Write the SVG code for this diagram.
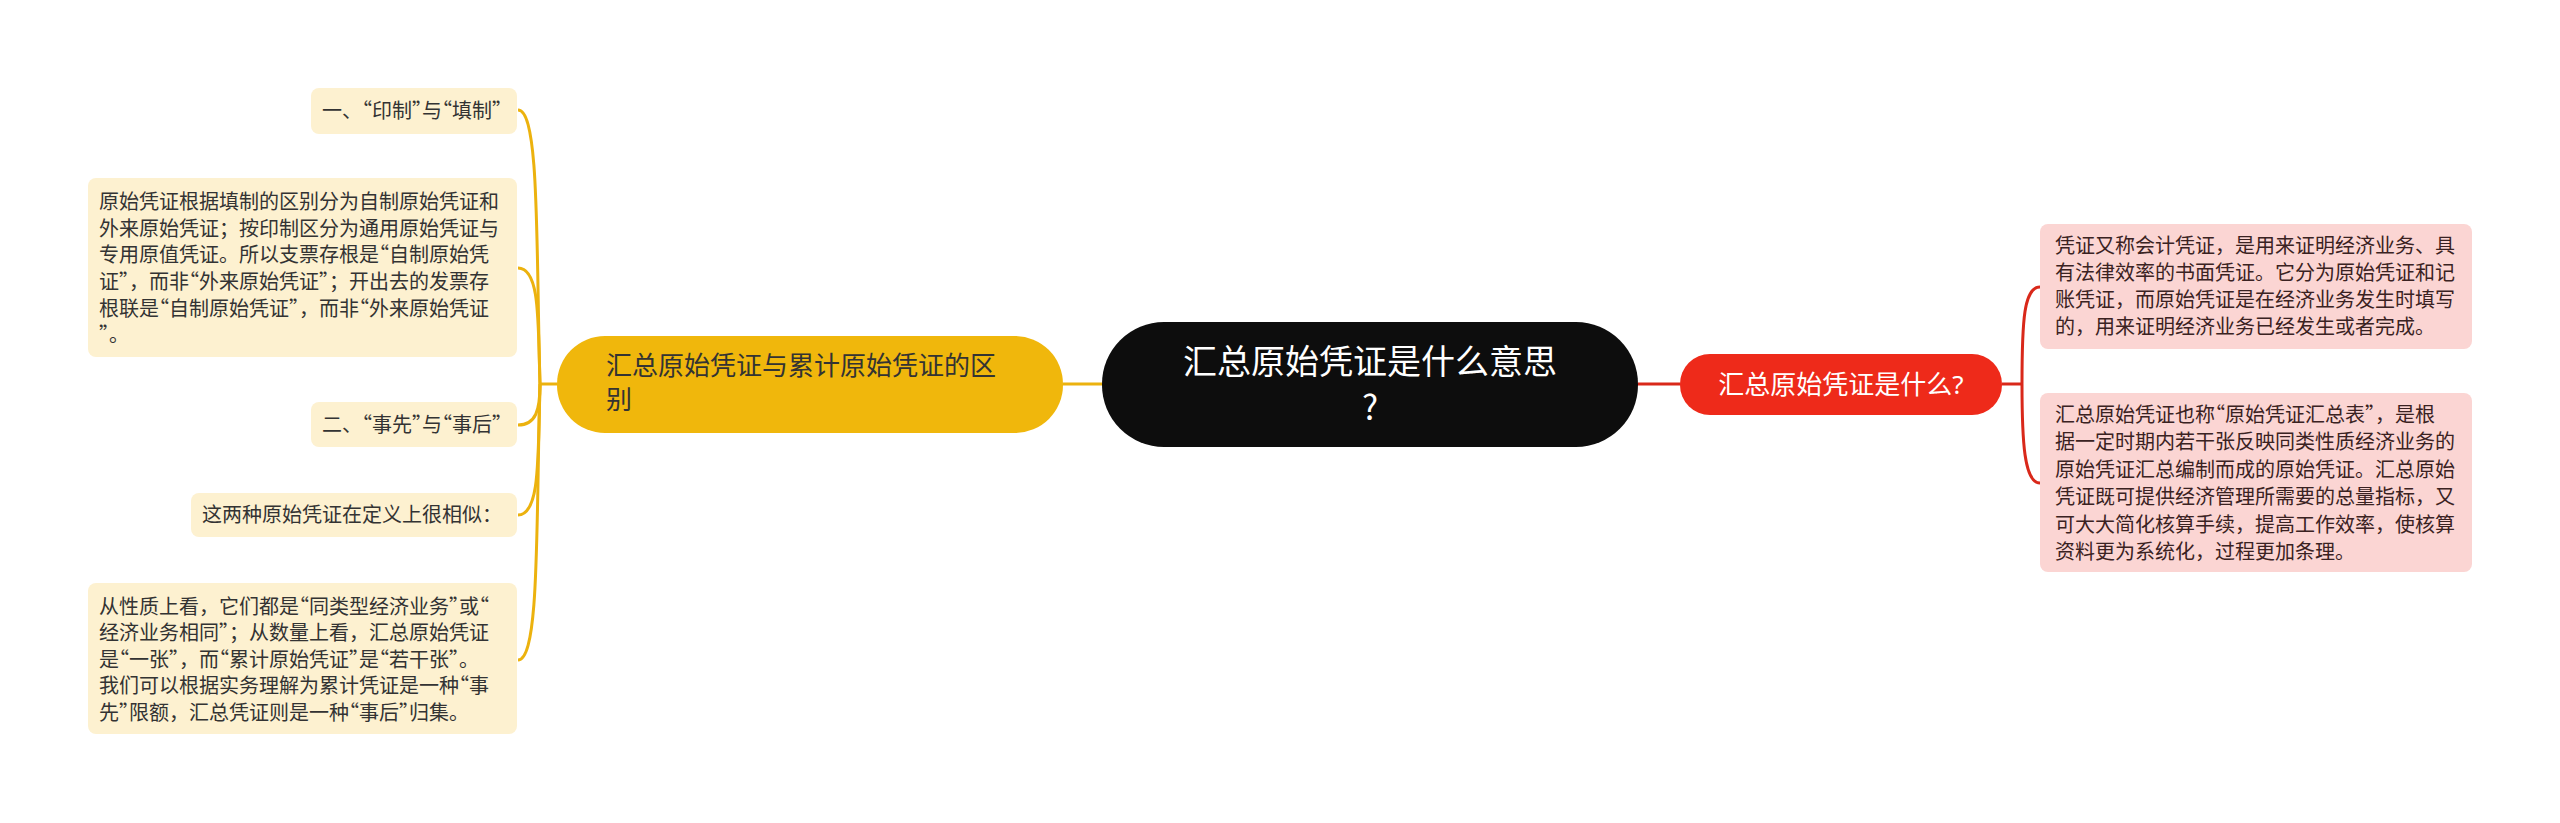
<svg xmlns="http://www.w3.org/2000/svg" width="2560" height="823" viewBox="0 0 2560 823">
<style>
text{font-family:"Noto Sans CJK SC","Noto Sans",sans-serif;}
.q{font-feature-settings:"halt";}
.leaf{fill:#FDF1D0;}
.pink{fill:#FBD5D3;}
.lt{font-size:20px;fill:#333333;}
.rt{font-size:20px;fill:#3a2222;}
.yl{fill:none;stroke:#ECB20E;stroke-width:3;}
.rl{fill:none;stroke:#D9281A;stroke-width:3;}
</style>
<rect width="2560" height="823" fill="#ffffff"/>
<g id="connectors">
<path class="yl" d="M1063 384 L1102 384"/>
<path class="rl" d="M1638 384 L1680 384"/>
<path class="yl" d="M557 384 L540 384"/>
<path class="yl" d="M540 384 C536 250 540 110 518 110"/>
<path class="yl" d="M540 384 C538 320 540 268 518 268"/>
<path class="yl" d="M540 384 C540 410 536 425 518 425"/>
<path class="yl" d="M540 384 C538 460 540 515 518 515"/>
<path class="yl" d="M540 384 C536 520 540 660 518 660"/>
<path class="rl" d="M2002 384 L2022 384"/>
<path class="rl" d="M2022 384 C2022 320 2024 287 2040 287"/>
<path class="rl" d="M2022 384 C2022 440 2024 483 2040 483"/>
</g>
<g id="root">
<rect x="1102" y="322" width="536" height="125" rx="62" fill="#0D0D0D"/>
<text x="1370" y="374" font-size="34" fill="#ffffff" text-anchor="middle">汇总原始凭证是什么意思</text>
<text x="1370" y="420" font-size="34" fill="#ffffff" text-anchor="middle" font-family="Noto Sans, sans-serif">?</text>
</g>
<g id="branch-left">
<rect x="557" y="336" width="506" height="97" rx="48" fill="#F0B70C"/>
<text x="606" y="375" font-size="26" fill="#333333">汇总原始凭证与累计原始凭证的区</text>
<text x="606" y="409" font-size="26" fill="#333333">别</text>
</g>
<g id="branch-right">
<rect x="1680" y="354" width="322" height="61" rx="30" fill="#EE2A1A"/>
<text x="1841" y="394" font-size="26" fill="#ffffff" text-anchor="middle">汇总原始凭证是什么<tspan font-family="Noto Sans, sans-serif">?</tspan></text>
</g>
<g id="leaf-a">
<rect class="leaf" x="311" y="88" width="206" height="46" rx="8"/>
<text class="lt" x="322" y="118">一、<tspan class="q">“</tspan>印制<tspan class="q">”</tspan>与<tspan class="q">“</tspan>填制<tspan class="q">”</tspan></text>
</g>
<g id="leaf-b">
<rect class="leaf" x="88" y="178" width="429" height="179" rx="8"/>
<text class="lt" x="99" y="209">原始凭证根据填制的区别分为自制原始凭证和</text>
<text class="lt" x="99" y="236">外来原始凭证；按印制区分为通用原始凭证与</text>
<text class="lt" x="99" y="262">专用原值凭证。所以支票存根是<tspan class="q">“</tspan>自制原始凭</text>
<text class="lt" x="99" y="289">证<tspan class="q">”</tspan>，而非<tspan class="q">“</tspan>外来原始凭证<tspan class="q">”</tspan>；开出去的发票存</text>
<text class="lt" x="99" y="316">根联是<tspan class="q">“</tspan>自制原始凭证<tspan class="q">”</tspan>，而非<tspan class="q">“</tspan>外来原始凭证</text>
<text class="lt" x="99" y="342"><tspan class="q">”</tspan>。</text>
</g>
<g id="leaf-c">
<rect class="leaf" x="311" y="402" width="206" height="45" rx="8"/>
<text class="lt" x="322" y="432">二、<tspan class="q">“</tspan>事先<tspan class="q">”</tspan>与<tspan class="q">“</tspan>事后<tspan class="q">”</tspan></text>
</g>
<g id="leaf-d">
<rect class="leaf" x="191" y="493" width="326" height="44" rx="8"/>
<text class="lt" x="202" y="522">这两种原始凭证在定义上很相似：</text>
</g>
<g id="leaf-e">
<rect class="leaf" x="88" y="583" width="429" height="151" rx="8"/>
<text class="lt" x="99" y="614">从性质上看，它们都是<tspan class="q">“</tspan>同类型经济业务<tspan class="q">”</tspan>或<tspan class="q">“</tspan></text>
<text class="lt" x="99" y="640">经济业务相同<tspan class="q">”</tspan>；从数量上看，汇总原始凭证</text>
<text class="lt" x="99" y="667">是<tspan class="q">“</tspan>一张<tspan class="q">”</tspan>，而<tspan class="q">“</tspan>累计原始凭证<tspan class="q">”</tspan>是<tspan class="q">“</tspan>若干张<tspan class="q">”</tspan>。</text>
<text class="lt" x="99" y="693">我们可以根据实务理解为累计凭证是一种<tspan class="q">“</tspan>事</text>
<text class="lt" x="99" y="720">先<tspan class="q">”</tspan>限额，汇总凭证则是一种<tspan class="q">“</tspan>事后<tspan class="q">”</tspan>归集。</text>
</g>
<g id="leaf-f">
<rect class="pink" x="2040" y="224" width="432" height="125" rx="8"/>
<text class="rt" x="2055" y="253">凭证又称会计凭证，是用来证明经济业务、具</text>
<text class="rt" x="2055" y="280">有法律效率的书面凭证。它分为原始凭证和记</text>
<text class="rt" x="2055" y="307">账凭证，而原始凭证是在经济业务发生时填写</text>
<text class="rt" x="2055" y="334">的，用来证明经济业务已经发生或者完成。</text>
</g>
<g id="leaf-g">
<rect class="pink" x="2040" y="393" width="432" height="179" rx="8"/>
<text class="rt" x="2055" y="422">汇总原始凭证也称<tspan class="q">“</tspan>原始凭证汇总表<tspan class="q">”</tspan>，是根</text>
<text class="rt" x="2055" y="449">据一定时期内若干张反映同类性质经济业务的</text>
<text class="rt" x="2055" y="477">原始凭证汇总编制而成的原始凭证。汇总原始</text>
<text class="rt" x="2055" y="504">凭证既可提供经济管理所需要的总量指标，又</text>
<text class="rt" x="2055" y="532">可大大简化核算手续，提高工作效率，使核算</text>
<text class="rt" x="2055" y="559">资料更为系统化，过程更加条理。</text>
</g>
</svg>
